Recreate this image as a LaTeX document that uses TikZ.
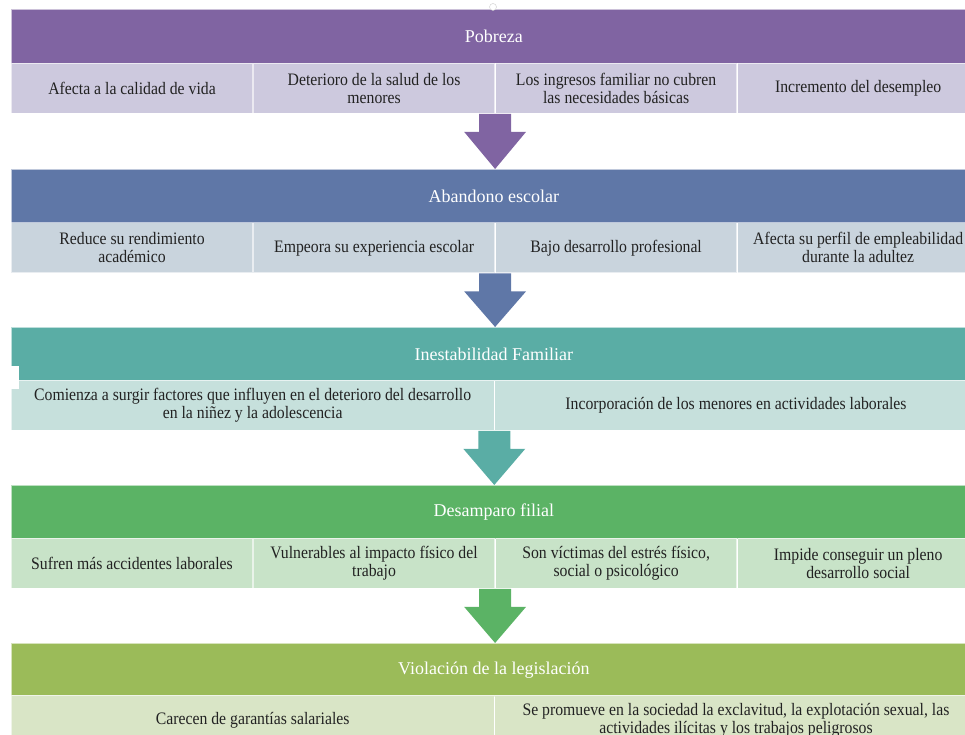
\documentclass[tikz,border=0pt]{standalone}
\usepackage{fontspec}
\setmainfont{Liberation Serif}
\newfontfamily\cellfam[FakeStretch=0.9]{Liberation Serif}
\newcommand\cellfont{\cellfam\fontsize{17.5}{18}\selectfont}
\newcommand\hdrfont{\fontsize{18}{20}\selectfont}
\usetikzlibrary{calc}
\definecolor{hA}{HTML}{8064A2}\definecolor{sA}{HTML}{CDC9DE}
\definecolor{hB}{HTML}{5F77A7}\definecolor{sB}{HTML}{C9D4DD}
\definecolor{hC}{HTML}{5AADA5}\definecolor{sC}{HTML}{C6E0DC}
\definecolor{hD}{HTML}{5BB365}\definecolor{sD}{HTML}{C8E3C8}
\definecolor{hE}{HTML}{9BBB59}\definecolor{sE}{HTML}{D9E5C6}
\definecolor{txt}{HTML}{222222}
\tikzset{
  hdr/.style={anchor=north west, minimum width=965pt, minimum height=54pt, inner sep=0pt,
    text=white, font=\hdrfont, draw=white, draw opacity=0.6, line width=0.8pt},
  cellfour/.style={anchor=north west, minimum width=241.25pt, minimum height=50pt, inner sep=0pt,
    align=center, text=txt, font=\cellfont, draw=white, draw opacity=0.6, line width=0.8pt},
  celltwo/.style={cellfour, minimum width=482.5pt},
}
\newcommand\blockarrow[3]{%
  \fill[#1] ([xshift=-16pt]#2) -- ++(32pt,0) -- ++(0,-18pt) -- ++(15pt,0) -- (#2 |- #3.north)
    -- ([shift={(-31pt,-18pt)}]#2) -- ++(15pt,0) -- cycle;}
\begin{document}
\begin{tikzpicture}[x=1pt,y=1pt]
\useasboundingbox (0,0) rectangle (965,735);
\clip (0,0) rectangle (965,735);
% Block 1
\node[hdr, fill=hA] (h0) at (11,726) {Pobreza};
\node[cellfour, fill=sA] (s0a) at (11,672) {Afecta a la calidad de vida};
\node[cellfour, fill=sA] (s0b) at (s0a.north east) {Deterioro de la salud de los\\menores};
\node[cellfour, fill=sA] (s0c) at (s0b.north east) {Los ingresos familiar no cubren\\las necesidades básicas};
\node[cellfour, fill=sA] (s0d) at (s0c.north east) {Incremento del desempleo};
% Block 2
\node[hdr, fill=hB] (h1) at (11,566) {Abandono escolar};
\node[cellfour, fill=sB] (s1a) at (11,512.5) {Reduce su rendimiento\\académico};
\node[cellfour, fill=sB] (s1b) at (s1a.north east) {Empeora su experiencia escolar};
\node[cellfour, fill=sB] (s1c) at (s1b.north east) {Bajo desarrollo profesional};
\node[cellfour, fill=sB] (s1d) at (s1c.north east) {Afecta su perfil de empleabilidad\\durante la adultez};
% Block 3
\node[hdr, fill=hC] (h2) at (11,408) {Inestabilidad Familiar};
\node[celltwo, fill=sC] (s2a) at (11,355) {Comienza a surgir factores que influyen en el deterioro del desarrollo\\en la niñez y la adolescencia};
\node[celltwo, fill=sC] (s2b) at (s2a.north east) {Incorporación de los menores en actividades laborales};
% Block 4
\node[hdr, fill=hD] (h3) at (11,250) {Desamparo filial};
\node[cellfour, fill=sD] (s3a) at (11,197) {Sufren más accidentes laborales};
\node[cellfour, fill=sD] (s3b) at (s3a.north east) {Vulnerables al impacto físico del\\trabajo};
\node[cellfour, fill=sD] (s3c) at (s3b.north east) {Son víctimas del estrés físico,\\social o psicológico};
\node[cellfour, fill=sD] (s3d) at (s3c.north east) {Impide conseguir un pleno\\desarrollo social};
% Block 5
\node[hdr, fill=hE] (h4) at (11,92) {Violación de la legislación};
\node[celltwo, fill=sE] (s4a) at (11,40) {Carecen de garantías salariales};
\node[celltwo, fill=sE] (s4b) at (s4a.north east) {Se promueve en la sociedad la exclavitud, la explotación sexual, las\\actividades ilícitas y los trabajos peligrosos};
% Arrows
\blockarrow{hA}{s0b.south east}{h1}
\blockarrow{hB}{s1b.south east}{h2}
\blockarrow{hC}{s2a.south east}{h3}
\blockarrow{hD}{s3b.south east}{h4}
% small artefacts
\fill[white] (11,369) rectangle (19,346);
\draw[white, fill=white, draw=gray!40] (493,728) circle (3.5pt);
\end{tikzpicture}
\end{document}
